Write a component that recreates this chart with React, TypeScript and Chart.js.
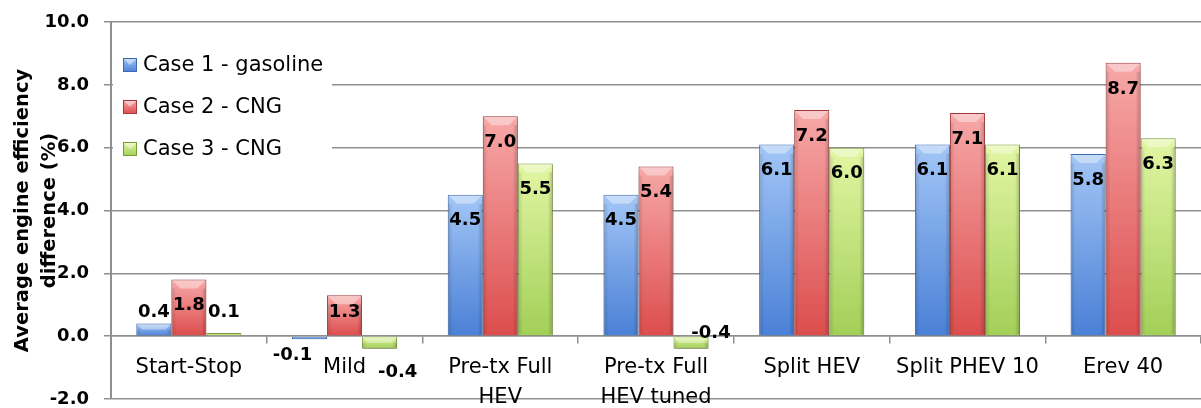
import React, { useEffect, useRef } from "react";
import { Chart, registerables } from "chart.js";

Chart.register(...registerables);

// Vehicle configurations on the category axis (multi-line labels as arrays)
const categories: (string | string[])[] = [
  "Start-Stop",
  "Mild",
  ["Pre-tx Full", "HEV"],
  ["Pre-tx Full", "HEV tuned"],
  "Split HEV",
  "Split PHEV 10",
  "Erev 40",
];

const seriesNames = ["Case 1 - gasoline", "Case 2 - CNG", "Case 3 - CNG"];

// Average engine efficiency difference (%)
const case1Gasoline = [0.4, -0.1, 4.5, 4.5, 6.1, 6.1, 5.8];
const case2Cng = [1.8, 1.3, 7.0, 5.4, 7.2, 7.1, 8.7];
const case3Cng = [0.1, -0.4, 5.5, -0.4, 6.0, 6.1, 6.3];

const yTicks = { min: -2, max: 10, step: 2 };

const FONT = "'DejaVu Sans', sans-serif";
const GRID = "#8f8f8f";

// light top / dark bottom / outline per series
const palette = [
  { top: "#a3c6f6", bottom: "#4a80d6", edge: "#3b69ad" },
  { top: "#f7a8a8", bottom: "#dc4d4d", edge: "#a43838" },
  { top: "#e2f6a4", bottom: "#a2cf58", edge: "#7a9a3c" },
];

const barFill = (top: string, bottom: string) => (c: any) => {
  const chart = c.chart;
  if (!chart.chartArea || c.type !== "data") return bottom;
  const ys = chart.scales.y;
  const a = ys.getPixelForValue(0);
  const b = ys.getPixelForValue(c.raw as number);
  const y0 = Math.min(a, b);
  const y1 = Math.max(a, b, y0 + 1);
  const g = chart.ctx.createLinearGradient(0, y0, 0, y1);
  g.addColorStop(0, top);
  g.addColorStop(1, bottom);
  return g;
};

// soft drop shadow under the bars
const barShadow = {
  id: "barShadow",
  beforeDatasetsDraw(chart: any) {
    const ctx = chart.ctx;
    ctx.save();
    ctx.shadowColor = "rgba(0,0,0,0.28)";
    ctx.shadowBlur = 5;
    ctx.shadowOffsetX = 1;
    ctx.shadowOffsetY = 3;
  },
  afterDatasetsDraw(chart: any) {
    chart.ctx.restore();
  },
};

// bevelled top face and shaded sides of each bar
const barBevel = {
  id: "barBevel",
  afterDatasetsDraw(chart: any) {
    const ctx = chart.ctx;
    ctx.save();
    chart.data.datasets.forEach((_ds: any, di: number) => {
      const meta = chart.getDatasetMeta(di);
      meta.data.forEach((bar: any) => {
        const { x, y, base, width } = bar.getProps(["x", "y", "base", "width"], true);
        const left = x - width / 2 + 1;
        const right = x + width / 2 - 1;
        const top = Math.min(y, base) + 1;
        const bottom = Math.max(y, base) - 1;
        const h = bottom - top;
        if (h <= 1) return;
        const b = Math.min(8, h / 2);
        ctx.fillStyle = "rgba(255,255,255,0.38)";
        ctx.beginPath();
        ctx.moveTo(left, top);
        ctx.lineTo(right, top);
        ctx.lineTo(right - b, top + b);
        ctx.lineTo(left + b, top + b);
        ctx.closePath();
        ctx.fill();
        const gl = ctx.createLinearGradient(left, 0, left + 4, 0);
        gl.addColorStop(0, "rgba(0,0,0,0.12)");
        gl.addColorStop(1, "rgba(0,0,0,0)");
        ctx.fillStyle = gl;
        ctx.fillRect(left, top + b, 4, h - b);
        const gr = ctx.createLinearGradient(right - 4, 0, right, 0);
        gr.addColorStop(0, "rgba(0,0,0,0)");
        gr.addColorStop(1, "rgba(0,0,0,0.18)");
        ctx.fillStyle = gr;
        ctx.fillRect(right - 4, top + b, 4, h - b);
      });
    });
    ctx.restore();
  },
};

// value labels, inside the end of each bar
const valueLabels = {
  id: "valueLabels",
  afterDatasetsDraw(chart: any, _args: any, opts: any) {
    const ctx = chart.ctx;
    const zero = chart.scales.y.getPixelForValue(0);
    ctx.save();
    ctx.font = `bold 18px ${FONT}`;
    ctx.fillStyle = "#000";
    ctx.textAlign = "center";
    ctx.textBaseline = "middle";
    chart.data.datasets.forEach((ds: any, di: number) => {
      const meta = chart.getDatasetMeta(di);
      meta.data.forEach((bar: any, i: number) => {
        const v = ds.data[i] as number;
        const { x, y } = bar.getProps(["x", "y"], true);
        const ly = v >= 0 ? Math.min(y + 26, zero - 24) : Math.max(y - 26, zero + 24);
        const n = (opts.nudges && opts.nudges[`${di}-${i}`]) || [0, 0];
        ctx.fillText(v.toFixed(1), x + n[0], ly + n[1]);
      });
    });
    ctx.restore();
  },
};

// legend box in the upper-left corner of the plot
const insetLegend = {
  id: "insetLegend",
  afterDraw(chart: any) {
    const ctx = chart.ctx;
    const area = chart.chartArea;
    ctx.save();
    ctx.fillStyle = "#ffffff";
    ctx.fillRect(area.left + 2, 38, 219, 132);
    ctx.font = `21px ${FONT}`;
    ctx.textBaseline = "middle";
    ctx.textAlign = "left";
    chart.data.datasets.forEach((ds: any, di: number) => {
      const cy = 65 + di * 42;
      const bx = area.left + 12;
      const p = palette[di];
      const g = ctx.createLinearGradient(0, cy - 7, 0, cy + 7);
      g.addColorStop(0, p.top);
      g.addColorStop(1, p.bottom);
      ctx.fillStyle = g;
      ctx.fillRect(bx, cy - 7, 14, 14);
      ctx.fillStyle = "rgba(255,255,255,0.45)";
      ctx.beginPath();
      ctx.moveTo(bx + 1, cy - 6);
      ctx.lineTo(bx + 13, cy - 6);
      ctx.lineTo(bx + 7, cy);
      ctx.closePath();
      ctx.fill();
      ctx.strokeStyle = p.edge;
      ctx.lineWidth = 1;
      ctx.strokeRect(bx + 0.5, cy - 6.5, 13, 13);
      ctx.fillStyle = "#000";
      ctx.fillText(ds.label, bx + 20, cy + 1);
    });
    ctx.restore();
  },
};

export default function App() {
  const canvasRef = useRef<HTMLCanvasElement | null>(null);

  useEffect(() => {
    const canvas = canvasRef.current;
    if (!canvas) return;
    const series = [case1Gasoline, case2Cng, case3Cng];
    const chart = new Chart(canvas, {
      type: "bar",
      data: {
        labels: categories,
        datasets: series.map((data, i) => ({
          label: seriesNames[i],
          data,
          backgroundColor: barFill(palette[i].top, palette[i].bottom),
          borderColor: palette[i].edge,
          borderWidth: 1,
          categoryPercentage: 0.675,
          barPercentage: 1.0,
        })),
      },
      plugins: [barShadow, barBevel, valueLabels, insetLegend],
      options: {
        animation: false,
        responsive: false,
        devicePixelRatio: 1,
        layout: { padding: { top: 22, bottom: 9, left: 0, right: 0 } },
        plugins: {
          legend: { display: false },
          tooltip: { enabled: false },
          valueLabels: {
            nudges: { "0-1": [-17, -5], "2-1": [18, 12], "2-3": [20, -27] },
          },
        } as any,
        scales: {
          x: {
            type: "category",
            position: { y: 0 } as any,
            grid: {
              display: true,
              drawOnChartArea: false,
              drawTicks: true,
              tickLength: 7,
              color: GRID,
              lineWidth: 1.5,
              offset: true,
            },
            border: { display: true, color: GRID, width: 1.5 },
            ticks: {
              color: "#000",
              font: { family: FONT, size: 21, lineHeight: 1.43 },
              padding: 9,
              maxRotation: 0,
              autoSkip: false,
            },
            afterFit: (s: any) => {
              s.paddingLeft = 0;
              s.paddingRight = 0;
            },
          },
          y: {
            min: yTicks.min,
            max: yTicks.max,
            ticks: {
              stepSize: yTicks.step,
              color: "#000",
              font: { family: FONT, size: 18, weight: "bold" },
              padding: 15,
              callback: (v: any) => Number(v).toFixed(1),
            },
            grid: { color: GRID, lineWidth: 1.5, tickLength: 7 },
            border: { color: GRID, width: 2 },
            title: {
              display: true,
              text: ["Average engine efficiency", "difference (%)"],
              color: "#000",
              font: { family: FONT, size: 19.5, weight: "bold", lineHeight: 1.385 },
              padding: { top: 9.5, bottom: 0 },
            },
            afterFit: (s: any) => {
              s.width = 111;
              s.paddingTop = 0;
              s.paddingBottom = 0;
            },
          },
        },
      },
    });
    return () => chart.destroy();
  }, []);

  return (
    <div style={{ position: "fixed", left: 0, top: 0, width: 1201, height: 408, background: "#fff" }}>
      <canvas ref={canvasRef} width={1201} height={408} style={{ display: "block" }} />
    </div>
  );
}
